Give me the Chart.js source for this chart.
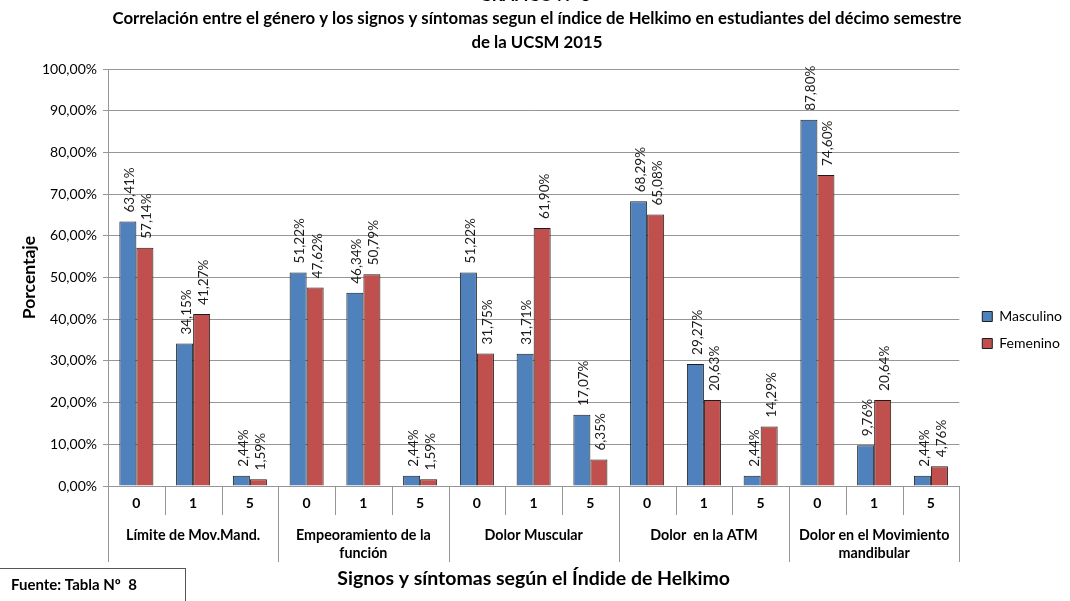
<!DOCTYPE html>
<html>
<head>
<meta charset="utf-8">
<script src="https://cdn.jsdelivr.net/npm/chart.js@4.4.1/dist/chart.umd.min.js"></script>
<style>
  html, body { margin: 0; padding: 0; background: #ffffff; }
  #wrap { width: 1070px; height: 601px; position: relative; }
</style>
</head>
<body>
<div id="wrap"><canvas id="c" width="1070" height="601"></canvas></div>
<script>
// ---------------- data ----------------
const subLabels = ['0', '1', '5', '0', '1', '5', '0', '1', '5', '0', '1', '5', '0', '1', '5'];
const groupLabels = [
  ['Límite de Mov.Mand.'],
  ['Empeoramiento de la', 'función'],
  ['Dolor Muscular'],
  ['Dolor  en la ATM'],
  ['Dolor en el Movimiento', 'mandibular']
];
const masculino = [63.41, 34.15, 2.44, 51.22, 46.34, 2.44, 51.22, 31.71, 17.07, 68.29, 29.27, 2.44, 87.80, 9.76, 2.44];
const femenino  = [57.14, 41.27, 1.59, 47.62, 50.79, 1.59, 31.75, 61.90, 6.35, 65.08, 20.63, 14.29, 74.60, 20.64, 4.76];
const seriesNames = ['Masculino', 'Femenino'];
const titleLines = [
  'GRAFICO Nº 8',
  'Correlación entre el género y los signos y síntomas segun el índice de Helkimo en estudiantes del décimo semestre',
  'de la UCSM 2015'
];
const yAxisTitle = 'Porcentaje';
const xAxisTitle = 'Signos y síntomas según el Índide de Helkimo';
const sourceNote = 'Fuente: Tabla Nº  8';

// ---------------- helpers ----------------
const FONT = 'Lato, "Open Sans", "DejaVu Sans", sans-serif';
const fmt = v => v.toFixed(2).replace('.', ',') + '%';
const GRID = '#969696';

const extrasPlugin = {
  id: 'extras',
  afterLayout(chart) {
    const lg = chart.legend;
    if (lg) { lg.left += 10; lg.right += 10; }
  },
  afterDatasetsDraw(chart) {
    const ctx = chart.ctx;
    // value labels rotated
    ctx.save();
    ctx.font = '13.5px ' + FONT;
    ctx.fillStyle = '#1a1a1a';
    ctx.textAlign = 'left';
    ctx.textBaseline = 'middle';
    chart.data.datasets.forEach((ds, di) => {
      const meta = chart.getDatasetMeta(di);
      meta.data.forEach((bar, i) => {
        ctx.save();
        ctx.translate(bar.x + 2, bar.y - 9);
        ctx.rotate(-Math.PI / 2);
        ctx.fillText(fmt(ds.data[i]), 0, 0);
        ctx.restore();
      });
    });
    ctx.restore();
  },
  afterDraw(chart) {
    const ctx = chart.ctx;
    const xs = chart.scales.x;
    const area = chart.chartArea;
    const n = subLabels.length;
    const half = (xs.getPixelForValue(1) - xs.getPixelForValue(0)) / 2;
    ctx.save();
    // category separators
    ctx.strokeStyle = GRID;
    ctx.lineWidth = 1;
    for (let i = 0; i <= n; i++) {
      const px = Math.round(i < n ? xs.getPixelForValue(i) - half : xs.getPixelForValue(n - 1) + half) + 0.5;
      const isGroup = i % 3 === 0;
      ctx.beginPath();
      ctx.moveTo(px, area.bottom);
      ctx.lineTo(px, area.bottom + (isGroup ? 76 : 29));
      ctx.stroke();
    }
    // group labels
    ctx.fillStyle = '#000';
    ctx.font = 'bold 14.3px ' + FONT;
    ctx.textAlign = 'center';
    ctx.textBaseline = 'middle';
    groupLabels.forEach((lines, g) => {
      const cx = (xs.getPixelForValue(g * 3) + xs.getPixelForValue(g * 3 + 2)) / 2;
      lines.forEach((t, k) => ctx.fillText(t, cx, area.bottom + 49 + k * 18));
    });
    // titles
    ctx.font = 'bold 16.8px ' + FONT;
    ctx.fillText(titleLines[0], 535, -4);
    ctx.fillText(titleLines[1], 537, 19);
    ctx.fillText(titleLines[2], 537, 43);
    // source box
    ctx.strokeStyle = '#555';
    ctx.strokeRect(-1.5, 568.5, 187, 40);
    ctx.textAlign = 'left';
    ctx.font = 'bold 15px ' + FONT;
    ctx.fillText(sourceNote, 11, 585);
    ctx.restore();
  }
};

new Chart(document.getElementById('c'), {
  type: 'bar',
  data: {
    labels: subLabels,
    datasets: [
      { label: seriesNames[0], data: masculino, backgroundColor: '#4F81BD', borderColor: '#1c1c1c', borderWidth: 1 },
      { label: seriesNames[1], data: femenino,  backgroundColor: '#C0504D', borderColor: '#1c1c1c', borderWidth: 1 }
    ]
  },
  options: {
    responsive: false,
    animation: false,
    events: [],
    layout: { padding: { left: 0, top: 69, right: 8, bottom: 10 } },
    datasets: { bar: { categoryPercentage: 0.6, barPercentage: 1.0 } },
    plugins: {
      title: { display: false },
      tooltip: { enabled: false },
      legend: {
        position: 'right',
        align: 'center',
        labels: {
          boxWidth: 10, boxHeight: 10, padding: 13,
          color: '#000',
          font: { family: FONT, size: 14 }
        }
      }
    },
    scales: {
      x: {
        grid: { display: false, drawTicks: false },
        border: { display: true, color: GRID },
        ticks: { color: '#000', font: { family: FONT, size: 14, weight: 'bold' }, padding: 9, maxRotation: 0, autoSkip: false },
        title: { display: true, text: xAxisTitle, color: '#000', font: { family: FONT, size: 19.5, weight: 'bold' }, padding: { top: 0, bottom: 1 } },
        afterFit: s => { s.height = 105; }
      },
      y: {
        min: 0, max: 100,
        ticks: { stepSize: 10, callback: v => fmt(v), color: '#000', font: { family: FONT, size: 14 }, padding: 6 },
        grid: { color: GRID, tickLength: 5, lineWidth: 1 },
        border: { display: true, color: GRID },
        title: { display: true, text: yAxisTitle, color: '#000', font: { family: FONT, size: 17.5, weight: 'bold' }, padding: { top: 19, bottom: 0 } },
        afterFit: s => { s.width = 108; }
      }
    }
  },
  plugins: [extrasPlugin]
});
</script>
</body>
</html>
